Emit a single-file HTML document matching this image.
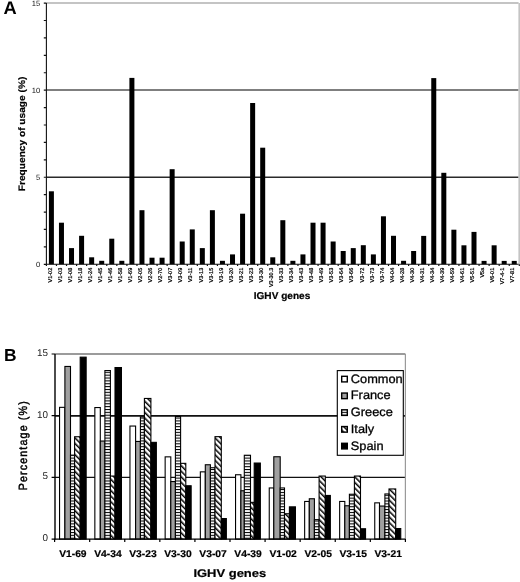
<!DOCTYPE html>
<html><head><meta charset="utf-8"><style>
html,body{margin:0;padding:0;background:#fff;}
svg{display:block;font-family:"Liberation Sans", sans-serif;will-change:transform;text-rendering:geometricPrecision;}
</style></head><body>
<svg width="520" height="582" viewBox="0 0 520 582">
<rect width="520" height="582" fill="#fff"/>
<line x1="46.4" y1="3" x2="518.6" y2="3" stroke="#b0b0b0" stroke-width="1.7"/><line x1="46.4" y1="90" x2="518.6" y2="90" stroke="#555" stroke-width="1.7"/><line x1="46.4" y1="177.3" x2="518.6" y2="177.3" stroke="#2a2a2a" stroke-width="1.5"/><line x1="519.2" y1="3.11" x2="519.2" y2="264.3" stroke="#c4c4c4" stroke-width="1.6"/><g fill="#000"><rect x="48.9" y="191.3" width="5.0" height="73"/><rect x="58.96" y="222.7" width="5.0" height="41.6"/><rect x="69.02" y="248.1" width="5.0" height="16.2"/><rect x="79.09" y="235.8" width="5.0" height="28.5"/><rect x="89.15" y="257.3" width="5.0" height="7"/><rect x="99.21" y="260.8" width="5.0" height="3.5"/><rect x="109.27" y="238.7" width="5.0" height="25.6"/><rect x="119.33" y="260.8" width="5.0" height="3.5"/><rect x="129.4" y="77.9" width="5.0" height="186.4"/><rect x="139.46" y="210.2" width="5.0" height="54.1"/><rect x="149.52" y="257.7" width="5.0" height="6.6"/><rect x="159.58" y="257.7" width="5.0" height="6.6"/><rect x="169.64" y="169.2" width="5.0" height="95.1"/><rect x="179.71" y="241.5" width="5.0" height="22.8"/><rect x="189.77" y="229.4" width="5.0" height="34.9"/><rect x="199.83" y="248.1" width="5.0" height="16.2"/><rect x="209.89" y="210.2" width="5.0" height="54.1"/><rect x="219.95" y="260.8" width="5.0" height="3.5"/><rect x="230.02" y="254.4" width="5.0" height="9.9"/><rect x="240.08" y="213.7" width="5.0" height="50.6"/><rect x="250.14" y="103" width="5.0" height="161.3"/><rect x="260.2" y="147.7" width="5.0" height="116.6"/><rect x="270.26" y="257.3" width="5.0" height="7"/><rect x="280.33" y="220.2" width="5.0" height="44.1"/><rect x="290.39" y="260.8" width="5.0" height="3.5"/><rect x="300.45" y="254.4" width="5.0" height="9.9"/><rect x="310.51" y="222.7" width="5.0" height="41.6"/><rect x="320.57" y="222.7" width="5.0" height="41.6"/><rect x="330.64" y="241.5" width="5.0" height="22.8"/><rect x="340.7" y="251" width="5.0" height="13.3"/><rect x="350.76" y="248.1" width="5.0" height="16.2"/><rect x="360.82" y="245.2" width="5.0" height="19.1"/><rect x="370.88" y="254.4" width="5.0" height="9.9"/><rect x="380.95" y="216.3" width="5.0" height="48"/><rect x="391.01" y="235.8" width="5.0" height="28.5"/><rect x="401.07" y="260.8" width="5.0" height="3.5"/><rect x="411.13" y="251" width="5.0" height="13.3"/><rect x="421.19" y="235.9" width="5.0" height="28.4"/><rect x="431.26" y="78.1" width="5.0" height="186.2"/><rect x="441.32" y="172.8" width="5.0" height="91.5"/><rect x="451.38" y="229.7" width="5.0" height="34.6"/><rect x="461.44" y="245.3" width="5.0" height="19"/><rect x="471.5" y="231.9" width="5.0" height="32.4"/><rect x="481.57" y="260.9" width="5.0" height="3.4"/><rect x="491.63" y="245.3" width="5.0" height="19"/><rect x="501.69" y="260.9" width="5.0" height="3.4"/><rect x="511.75" y="260.9" width="5.0" height="3.4"/></g><line x1="46.4" y1="3.11" x2="46.4" y2="264.8" stroke="#111" stroke-width="1.1"/><line x1="46.4" y1="264.3" x2="518.6" y2="264.3" stroke="#111" stroke-width="1.1"/><path d="M43.8 264.3H46.4 M43.8 246.89H46.4 M43.8 229.47H46.4 M43.8 212.06H46.4 M43.8 194.65H46.4 M43.8 177.24H46.4 M43.8 159.82H46.4 M43.8 142.41H46.4 M43.8 125H46.4 M43.8 107.58H46.4 M43.8 90.17H46.4 M43.8 72.76H46.4 M43.8 55.34H46.4 M43.8 37.93H46.4 M43.8 20.52H46.4 M43.8 3.11H46.4 M46.4 264.3V265.90000000000003 M56.46 264.3V265.90000000000003 M66.52 264.3V265.90000000000003 M76.59 264.3V265.90000000000003 M86.65 264.3V265.90000000000003 M96.71 264.3V265.90000000000003 M106.77 264.3V265.90000000000003 M116.83 264.3V265.90000000000003 M126.9 264.3V265.90000000000003 M136.96 264.3V265.90000000000003 M147.02 264.3V265.90000000000003 M157.08 264.3V265.90000000000003 M167.14 264.3V265.90000000000003 M177.21 264.3V265.90000000000003 M187.27 264.3V265.90000000000003 M197.33 264.3V265.90000000000003 M207.39 264.3V265.90000000000003 M217.45 264.3V265.90000000000003 M227.52 264.3V265.90000000000003 M237.58 264.3V265.90000000000003 M247.64 264.3V265.90000000000003 M257.7 264.3V265.90000000000003 M267.76 264.3V265.90000000000003 M277.83 264.3V265.90000000000003 M287.89 264.3V265.90000000000003 M297.95 264.3V265.90000000000003 M308.01 264.3V265.90000000000003 M318.07 264.3V265.90000000000003 M328.14 264.3V265.90000000000003 M338.2 264.3V265.90000000000003 M348.26 264.3V265.90000000000003 M358.32 264.3V265.90000000000003 M368.38 264.3V265.90000000000003 M378.45 264.3V265.90000000000003 M388.51 264.3V265.90000000000003 M398.57 264.3V265.90000000000003 M408.63 264.3V265.90000000000003 M418.69 264.3V265.90000000000003 M428.76 264.3V265.90000000000003 M438.82 264.3V265.90000000000003 M448.88 264.3V265.90000000000003 M458.94 264.3V265.90000000000003 M469 264.3V265.90000000000003 M479.07 264.3V265.90000000000003 M489.13 264.3V265.90000000000003 M499.19 264.3V265.90000000000003 M509.25 264.3V265.90000000000003 M519.31 264.3V265.90000000000003" stroke="#111" stroke-width="1.2" fill="none"/><text transform="translate(40.3,266.9)" font-size="7.6" text-anchor="end" fill="#111">0</text><text transform="translate(40.3,179.84)" font-size="7.6" text-anchor="end" fill="#111">5</text><text transform="translate(40.3,92.77)" font-size="7.6" text-anchor="end" fill="#111">10</text><text transform="translate(40.3,5.71)" font-size="7.6" text-anchor="end" fill="#111">15</text><g font-size="5.5" fill="#000" stroke="#000" stroke-width="0.22"><text transform="translate(51.6,267.8) rotate(-90)" text-anchor="end">V1-02</text><text transform="translate(61.66,267.8) rotate(-90)" text-anchor="end">V1-03</text><text transform="translate(71.72,267.8) rotate(-90)" text-anchor="end">V1-08</text><text transform="translate(81.79,267.8) rotate(-90)" text-anchor="end">V1-18</text><text transform="translate(91.85,267.8) rotate(-90)" text-anchor="end">V1-24</text><text transform="translate(101.91,267.8) rotate(-90)" text-anchor="end">V1-45</text><text transform="translate(111.97,267.8) rotate(-90)" text-anchor="end">V1-46</text><text transform="translate(122.03,267.8) rotate(-90)" text-anchor="end">V1-58</text><text transform="translate(132.1,267.8) rotate(-90)" text-anchor="end">V1-69</text><text transform="translate(142.16,267.8) rotate(-90)" text-anchor="end">V2-05</text><text transform="translate(152.22,267.8) rotate(-90)" text-anchor="end">V2-26</text><text transform="translate(162.28,267.8) rotate(-90)" text-anchor="end">V2-70</text><text transform="translate(172.34,267.8) rotate(-90)" text-anchor="end">V3-07</text><text transform="translate(182.41,267.8) rotate(-90)" text-anchor="end">V3-09</text><text transform="translate(192.47,267.8) rotate(-90)" text-anchor="end">V3-11</text><text transform="translate(202.53,267.8) rotate(-90)" text-anchor="end">V3-13</text><text transform="translate(212.59,267.8) rotate(-90)" text-anchor="end">V3-15</text><text transform="translate(222.65,267.8) rotate(-90)" text-anchor="end">V3-19</text><text transform="translate(232.72,267.8) rotate(-90)" text-anchor="end">V3-20</text><text transform="translate(242.78,267.8) rotate(-90)" text-anchor="end">V3-21</text><text transform="translate(252.84,267.8) rotate(-90)" text-anchor="end">V3-23</text><text transform="translate(262.9,267.8) rotate(-90)" text-anchor="end">V3-30</text><text transform="translate(272.96,267.8) rotate(-90)" text-anchor="end">V3-30.3</text><text transform="translate(283.03,267.8) rotate(-90)" text-anchor="end">V3-33</text><text transform="translate(293.09,267.8) rotate(-90)" text-anchor="end">V3-34</text><text transform="translate(303.15,267.8) rotate(-90)" text-anchor="end">V3-43</text><text transform="translate(313.21,267.8) rotate(-90)" text-anchor="end">V3-48</text><text transform="translate(323.27,267.8) rotate(-90)" text-anchor="end">V3-49</text><text transform="translate(333.34,267.8) rotate(-90)" text-anchor="end">V3-53</text><text transform="translate(343.4,267.8) rotate(-90)" text-anchor="end">V3-64</text><text transform="translate(353.46,267.8) rotate(-90)" text-anchor="end">V3-66</text><text transform="translate(363.52,267.8) rotate(-90)" text-anchor="end">V3-72</text><text transform="translate(373.58,267.8) rotate(-90)" text-anchor="end">V3-73</text><text transform="translate(383.65,267.8) rotate(-90)" text-anchor="end">V3-74</text><text transform="translate(393.71,267.8) rotate(-90)" text-anchor="end">V4-04</text><text transform="translate(403.77,267.8) rotate(-90)" text-anchor="end">V4-28</text><text transform="translate(413.83,267.8) rotate(-90)" text-anchor="end">V4-30</text><text transform="translate(423.89,267.8) rotate(-90)" text-anchor="end">V4-31</text><text transform="translate(433.96,267.8) rotate(-90)" text-anchor="end">V4-34</text><text transform="translate(444.02,267.8) rotate(-90)" text-anchor="end">V4-39</text><text transform="translate(454.08,267.8) rotate(-90)" text-anchor="end">V4-59</text><text transform="translate(464.14,267.8) rotate(-90)" text-anchor="end">V4-61</text><text transform="translate(474.2,267.8) rotate(-90)" text-anchor="end">V5-51</text><text transform="translate(484.27,267.8) rotate(-90)" text-anchor="end">V5a</text><text transform="translate(494.33,267.8) rotate(-90)" text-anchor="end">V6-01</text><text transform="translate(504.39,267.8) rotate(-90)" text-anchor="end">V7-4-1</text><text transform="translate(514.45,267.8) rotate(-90)" text-anchor="end">V7-81</text></g><text transform="translate(25.1,133.95) rotate(-90)" font-size="9.4" font-weight="bold" text-anchor="middle" textLength="114.5" lengthAdjust="spacingAndGlyphs" stroke="#000" stroke-width="0.2">Frequency of usage (%)</text><text transform="translate(282,298.6) scale(1.02,1)" font-size="9.9" font-weight="bold" text-anchor="middle" stroke="#000" stroke-width="0.2">IGHV genes</text><text transform="translate(3.5,13.9)" font-size="18.3" font-weight="bold">A</text><defs><pattern id="pg" patternUnits="userSpaceOnUse" width="6" height="2.86"><rect width="6" height="2.86" fill="#fff"/><rect x="0" y="0" width="6" height="1.05" fill="#000"/></pattern><pattern id="pi" patternUnits="userSpaceOnUse" width="3.96" height="3.96" patternTransform="rotate(-45)"><rect width="3.96" height="3.96" fill="#fff"/><rect width="1.5" height="3.96" fill="#000"/></pattern></defs><line x1="55.0" y1="354" x2="405.4" y2="354" stroke="#7a7a7a" stroke-width="1.7"/><line x1="55.0" y1="415.9" x2="405.4" y2="415.9" stroke="#111" stroke-width="1.6"/><line x1="55.0" y1="477.4" x2="405.4" y2="477.4" stroke="#111" stroke-width="1.1"/><line x1="405.4" y1="354" x2="405.4" y2="539.1" stroke="#9a9a9a" stroke-width="1.2"/><g stroke="#000" stroke-width="1.1"><rect x="59.55" y="407.35" width="5.35" height="131.75" fill="#fff"/><rect x="64.9" y="366.45" width="5.6" height="172.65" fill="#a0a0a0"/><rect x="70.5" y="455.15" width="4.1" height="83.95" fill="url(#pg)"/><rect x="74.6" y="436.75" width="5.6" height="102.35" fill="url(#pi)"/><rect x="80.2" y="357.15" width="5.95" height="181.95" fill="#000"/><rect x="94.85" y="407.55" width="5.45" height="131.55" fill="#fff"/><rect x="100.3" y="441.05" width="4.6" height="98.05" fill="#a0a0a0"/><rect x="104.9" y="370.55" width="5.5" height="168.55" fill="url(#pg)"/><rect x="110.4" y="476.05" width="4.6" height="63.05" fill="url(#pi)"/><rect x="115" y="367.55" width="6.45" height="171.55" fill="#000"/><rect x="129.95" y="426.05" width="5.65" height="113.05" fill="#fff"/><rect x="135.6" y="441.45" width="4.8" height="97.65" fill="#a0a0a0"/><rect x="140.4" y="416.85" width="4" height="122.25" fill="url(#pg)"/><rect x="144.4" y="398.45" width="6.5" height="140.65" fill="url(#pi)"/><rect x="150.9" y="442.35" width="5.45" height="96.75" fill="#000"/><rect x="165.15" y="456.85" width="5.65" height="82.25" fill="#fff"/><rect x="170.8" y="481.55" width="4.6" height="57.55" fill="#a0a0a0"/><rect x="175.4" y="416.55" width="5.2" height="122.55" fill="url(#pg)"/><rect x="180.6" y="463.35" width="5.2" height="75.75" fill="url(#pi)"/><rect x="185.8" y="485.75" width="5.35" height="53.35" fill="#000"/><rect x="200.35" y="471.85" width="4.95" height="67.25" fill="#fff"/><rect x="205.3" y="464.75" width="5.1" height="74.35" fill="#a0a0a0"/><rect x="210.4" y="467.75" width="4.6" height="71.35" fill="url(#pg)"/><rect x="215" y="436.65" width="6.3" height="102.45" fill="url(#pi)"/><rect x="221.3" y="518.55" width="5.05" height="20.55" fill="#000"/><rect x="235.55" y="474.75" width="5.35" height="64.35" fill="#fff"/><rect x="240.9" y="490.75" width="3.4" height="48.35" fill="#a0a0a0"/><rect x="244.3" y="455.25" width="6.2" height="83.85" fill="url(#pg)"/><rect x="250.5" y="502.35" width="3.7" height="36.75" fill="url(#pi)"/><rect x="254.2" y="463.05" width="6.15" height="76.05" fill="#000"/><rect x="269.25" y="487.95" width="4.55" height="51.15" fill="#fff"/><rect x="273.8" y="456.75" width="6.4" height="82.35" fill="#a0a0a0"/><rect x="280.2" y="487.95" width="4.3" height="51.15" fill="url(#pg)"/><rect x="284.5" y="513.75" width="4.9" height="25.35" fill="url(#pi)"/><rect x="289.4" y="506.85" width="6.05" height="32.25" fill="#000"/><rect x="304.65" y="501.45" width="4.65" height="37.65" fill="#fff"/><rect x="309.3" y="498.75" width="5.1" height="40.35" fill="#a0a0a0"/><rect x="314.4" y="519.65" width="4.7" height="19.45" fill="url(#pg)"/><rect x="319.1" y="476.05" width="6.2" height="63.05" fill="url(#pi)"/><rect x="325.3" y="495.45" width="5.05" height="43.65" fill="#000"/><rect x="339.65" y="501.45" width="5.15" height="37.65" fill="#fff"/><rect x="344.8" y="505.75" width="4.6" height="33.35" fill="#a0a0a0"/><rect x="349.4" y="494.25" width="5" height="44.85" fill="url(#pg)"/><rect x="354.4" y="476.05" width="6.1" height="63.05" fill="url(#pi)"/><rect x="360.5" y="528.75" width="5.05" height="10.35" fill="#000"/><rect x="374.75" y="502.85" width="4.75" height="36.25" fill="#fff"/><rect x="379.5" y="506.05" width="5.4" height="33.05" fill="#a0a0a0"/><rect x="384.9" y="493.95" width="4.1" height="45.15" fill="url(#pg)"/><rect x="389" y="488.95" width="6.7" height="50.15" fill="url(#pi)"/><rect x="395.7" y="528.55" width="5.05" height="10.55" fill="#000"/></g><line x1="55.0" y1="354" x2="55.0" y2="539.6" stroke="#000" stroke-width="1.4"/><line x1="54.5" y1="539.1" x2="405.4" y2="539.1" stroke="#000" stroke-width="1.3"/><path d="M51.6 539.1H55.0 M51.6 477.4H55.0 M51.6 415.7H55.0 M51.6 354H55.0 M54.6 539.1V542.1 M89.68 539.1V542.1 M124.76 539.1V542.1 M159.84 539.1V542.1 M194.92 539.1V542.1 M230 539.1V542.1 M265.08 539.1V542.1 M300.16 539.1V542.1 M335.24 539.1V542.1 M370.32 539.1V542.1 M405.4 539.1V542.1" stroke="#000" stroke-width="1.2" fill="none"/><text transform="translate(47.9,541)" font-size="9.9" text-anchor="end" fill="#222">0</text><text transform="translate(47.9,479.3)" font-size="9.9" text-anchor="end" fill="#222">5</text><text transform="translate(47.9,417.6)" font-size="9.9" text-anchor="end" fill="#222">10</text><text transform="translate(47.9,355.9)" font-size="9.9" text-anchor="end" fill="#222">15</text><g font-weight="bold" stroke="#000" stroke-width="0.2"><text transform="translate(72.87,557) scale(1.05,1)" font-size="9.8" text-anchor="middle">V1-69</text><text transform="translate(107.91,557) scale(1.05,1)" font-size="9.8" text-anchor="middle">V4-34</text><text transform="translate(142.95,557) scale(1.05,1)" font-size="9.8" text-anchor="middle">V3-23</text><text transform="translate(177.99,557) scale(1.05,1)" font-size="9.8" text-anchor="middle">V3-30</text><text transform="translate(213.03,557) scale(1.05,1)" font-size="9.8" text-anchor="middle">V3-07</text><text transform="translate(248.07,557) scale(1.05,1)" font-size="9.8" text-anchor="middle">V4-39</text><text transform="translate(283.11,557) scale(1.05,1)" font-size="9.8" text-anchor="middle">V1-02</text><text transform="translate(318.15,557) scale(1.05,1)" font-size="9.8" text-anchor="middle">V2-05</text><text transform="translate(353.19,557) scale(1.05,1)" font-size="9.8" text-anchor="middle">V3-15</text><text transform="translate(388.23,557) scale(1.05,1)" font-size="9.8" text-anchor="middle">V3-21</text></g><text transform="translate(229.8,577.3) scale(1.16,1)" font-size="11.2" font-weight="bold" text-anchor="middle" stroke="#000" stroke-width="0.2">IGHV genes</text><text transform="translate(26.8,445.8) rotate(-90) scale(0.9,1)" font-size="11.9" text-anchor="middle" textLength="99" lengthAdjust="spacing" stroke="#000" stroke-width="0.45">Percentage (%)</text><text transform="translate(4,360.6)" font-size="17.4" font-weight="bold">B</text><rect x="337.3" y="370.6" width="66" height="84.7" fill="#fff" stroke="#000" stroke-width="1.1"/><rect x="341.7" y="376.3" width="5.6" height="5.6" fill="#fff" stroke="#000" stroke-width="1.4"/><text transform="translate(350.8,382.6) scale(1.05,1)" font-size="12.2" stroke="#000" stroke-width="0.3">Common</text><rect x="341.7" y="393.05" width="5.6" height="5.6" fill="#a0a0a0" stroke="#000" stroke-width="1.4"/><text transform="translate(350.8,399.35) scale(1.05,1)" font-size="12.2" stroke="#000" stroke-width="0.3">France</text><rect x="341.7" y="409.8" width="5.6" height="5.6" fill="url(#pg)" stroke="#000" stroke-width="1.4"/><text transform="translate(350.8,416.1) scale(1.05,1)" font-size="12.2" stroke="#000" stroke-width="0.3">Greece</text><rect x="341.7" y="426.55" width="5.6" height="5.6" fill="url(#pi)" stroke="#000" stroke-width="1.4"/><text transform="translate(350.8,432.85) scale(1.05,1)" font-size="12.2" stroke="#000" stroke-width="0.3">Italy</text><rect x="341.7" y="443.3" width="5.6" height="5.6" fill="#000" stroke="#000" stroke-width="1.4"/><text transform="translate(350.8,449.6) scale(1.05,1)" font-size="12.2" stroke="#000" stroke-width="0.3">Spain</text>
</svg>
</body></html>
